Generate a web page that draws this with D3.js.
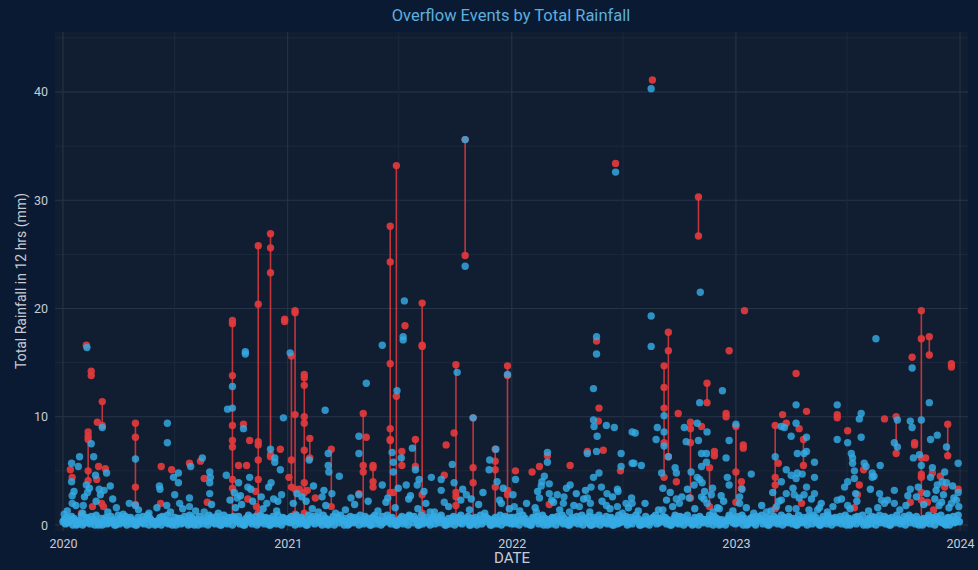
<!DOCTYPE html>
<html><head><meta charset="utf-8">
<script src="https://cdn.jsdelivr.net/npm/d3@7"></script>
<style>
html,body{margin:0;padding:0;background:#0b1a33;}
svg{display:block;}
</style></head><body>
<svg id="chart" width="978" height="570"></svg>
<script>
// ---------------- DATA ----------------
const chartTitle = "Overflow Events by Total Rainfall";
const xAxisTitle = "DATE";
const yAxisTitle = "Total Rainfall in 12 hrs (mm)";
const yTickValues = [0, 10, 20, 30, 40];
const xTickYears = ["2020", "2021", "2022", "2023", "2024"];

// Overflow events: date and the rainfall values (mm) of the overflowing sites that day
const redEvents = [
  ["2020-01-13",[5.1]],["2020-01-16",[4.4]],["2020-01-31",[1.1]],["2020-02-08",[16.6]],
  ["2020-02-11",[8.6,8.2,7.9,5.0,4.1]],["2020-02-16",[14.2,13.8]],["2020-02-18",[1.7]],
  ["2020-02-25",[4.2]],["2020-02-26",[9.5]],["2020-02-28",[5.4]],["2020-03-04",[2.0]],
  ["2020-03-05",[11.4,9.2]],["2020-03-07",[1.7]],["2020-03-10",[5.2]],["2020-04-28",[9.4,8.1,3.5,1.9]],
  ["2020-06-08",[2.0]],["2020-06-09",[5.4]],["2020-06-26",[5.1]],["2020-07-25",[5.7]],
  ["2020-08-12",[5.9]],["2020-08-18",[4.3]],["2020-08-23",[2.1]],
  ["2020-10-03",[18.9,18.6,13.8,9.2,7.8,7.2,4.2,3.4,0.5]],["2020-10-13",[5.5]],["2020-10-21",[9.3]],
  ["2020-10-26",[5.5]],["2020-10-28",[2.4]],["2020-10-31",[7.8]],["2020-11-10",[3.1]],["2020-11-11",[1.7]],
  ["2020-11-14",[25.8,20.4,7.7,7.4,6.0,4.2,1.1,0.3]],["2020-12-04",[26.9,25.6,23.3,6.5,6.3]],
  ["2020-12-20",[7.0]],["2020-12-27",[19.0,18.8]],
  ["2021-01-03",[4.4]],["2021-01-07",[15.6,6.0,3.5]],["2021-01-13",[19.8,19.6,10.2,3.3,1.0]],
  ["2021-01-20",[3.3]],["2021-01-28",[13.9,13.6,12.9,10.0,9.4,6.9,3.9,3.0,1.1,0.2]],["2021-02-02",[3.2]],
  ["2021-02-06",[8.0,6.2]],["2021-02-15",[2.5]],["2021-03-13",[7.0,1.7]],["2021-04-27",[2.9]],
  ["2021-05-04",[10.3,5.5,4.9,0.3]],["2021-05-09",[8.1]],["2021-05-20",[5.5,5.3,4.0,3.5]],
  ["2021-06-17",[27.6,24.3,14.9,8.9,7.9,7.8,3.0,0.5]],["2021-06-22",[3.0]],["2021-06-27",[33.2,11.9,0.3]],
  ["2021-07-06",[6.8,5.5]],["2021-07-11",[18.4]],["2021-07-28",[7.9,5.4]],
  ["2021-08-08",[20.5,16.6,16.5,2.8,1.1,0.5]],["2021-09-13",[4.6]],["2021-09-16",[7.4]],["2021-09-29",[8.5]],
  ["2021-10-02",[14.8,3.0,2.6,1.8,0.3]],["2021-10-17",[35.6,24.9]],["2021-10-30",[9.9,5.3,3.9,0.3]],
  ["2021-12-05",[7.0,5.9,5.1,3.5,0.3]],["2021-12-25",[14.7,13.8,3.2,2.8,0.3]],
  ["2022-01-07",[5.0]],["2022-02-03",[4.9]],["2022-02-15",[5.4]],["2022-02-28",[6.4]],["2022-03-03",[1.9]],
  ["2022-04-06",[5.5]],["2022-05-04",[6.8]],["2022-05-19",[17.0]],["2022-05-22",[9.6]],["2022-05-23",[10.8]],
  ["2022-05-30",[6.9]],["2022-06-19",[33.4]],["2022-06-27",[5.0]],["2022-08-18",[41.1]],
  ["2022-09-06",[14.7,12.7,10.8,7.6,4.4]],["2022-09-13",[17.8,16.1,6.3]],["2022-09-26",[4.0]],
  ["2022-09-28",[0.8]],["2022-09-29",[10.3]],["2022-10-19",[9.5,8.9,7.6,2.5]],["2022-11-01",[30.3,26.7]],
  ["2022-11-06",[9.1]],["2022-11-15",[13.1,11.3]],["2022-11-19",[5.3,1.7]],["2022-11-27",[6.8,6.4]],
  ["2022-12-16",[10.3,10.0]],["2022-12-21",[16.1]],
  ["2023-01-01",[9.1,4.9,2.1]],["2023-01-10",[4.0,3.4]],["2023-01-11",[0.6]],["2023-01-13",[7.4,7.1]],
  ["2023-01-15",[19.8]],["2023-03-06",[9.2,4.4,3.7,1.5]],["2023-03-11",[5.7]],["2023-03-18",[10.2]],
  ["2023-03-24",[9.4]],["2023-04-09",[14.0]],["2023-04-14",[8.9]],["2023-04-18",[2.0]],["2023-04-21",[7.9,5.5]],
  ["2023-04-26",[10.5]],["2023-06-15",[10.2,9.9]],["2023-07-02",[8.7]],["2023-07-13",[1.6]],["2023-07-18",[2.8]],
  ["2023-07-21",[3.7]],["2023-07-28",[5.1]],["2023-08-31",[9.8]],["2023-09-19",[10.0,6.6]],["2023-10-12",[2.1]],
  ["2023-10-15",[15.5]],["2023-10-19",[7.6,7.4]],["2023-10-30",[19.8,17.2,6.2,4.7,4.4,3.0,2.3,0.5]],
  ["2023-11-06",[6.2]],["2023-11-09",[2.1]],["2023-11-12",[17.4,15.7]],["2023-11-17",[4.8]],["2023-11-19",[1.4]],
  ["2023-11-30",[4.5]],["2023-12-07",[3.5]],["2023-12-12",[9.3,6.4]],["2023-12-18",[14.9,14.6]],["2023-12-29",[3.3]]
];

// Rainfall readings (mm) without overflow
const bluePoints = [
  ["2020-01-03",1.0],["2020-01-15",5.7],["2020-01-15",4.0],["2020-01-26",5.4],["2020-01-28",6.3],
  ["2020-01-16",2.7],["2020-01-16",2.0],["2020-02-03",1.8],["2020-02-08",3.7],["2020-02-10",3.0],
  ["2020-02-09",16.4],["2020-02-16",7.5],["2020-02-20",6.3],["2020-02-23",4.6],["2020-02-29",3.3],
  ["2020-03-08",3.2],["2020-03-12",4.8],["2020-03-05",9.0],["2020-03-28",1.6],["2020-04-18",2.0],
  ["2020-04-28",6.1],["2020-04-28",1.8],["2020-06-06",3.6],["2020-06-07",3.3],["2020-06-18",1.8],
  ["2020-06-19",9.4],["2020-06-19",7.6],["2020-06-29",4.4],["2020-07-07",4.8],["2020-07-07",3.9],
  ["2020-07-01",2.8],["2020-07-09",2.0],["2020-07-25",2.5],["2020-07-25",1.7],["2020-07-27",5.4],
  ["2020-08-15",6.2],["2020-08-27",4.9],["2020-08-28",4.4],["2020-08-27",3.9],["2020-08-27",2.9],
  ["2020-08-18",1.2],["2020-09-23",4.6],["2020-09-25",10.7],["2020-10-03",12.8],["2020-10-03",10.8],
  ["2020-10-13",3.9],["2020-10-21",8.9],["2020-10-28",3.5],["2020-10-31",4.4],["2020-10-11",2.5],
  ["2020-10-24",16.0],["2020-10-24",15.8],["2020-11-28",2.0],["2020-12-04",7.0],["2020-12-05",3.9],
  ["2020-12-11",6.2],["2020-12-11",5.8],["2020-12-20",5.1],["2020-12-22",2.8],["2020-12-25",9.9],
  ["2021-01-05",15.9],["2021-02-05",6.0],["2021-02-26",2.6],["2021-03-03",10.6],["2021-03-08",6.6],
  ["2021-03-08",5.5],["2021-03-09",4.9],["2021-03-14",2.9],["2021-03-26",4.5],["2021-04-14",2.5],
  ["2021-04-27",8.2],["2021-04-27",6.6],["2021-04-27",2.8],["2021-05-09",13.1],["2021-06-04",16.6],
  ["2021-06-04",3.7],["2021-06-20",6.7],["2021-06-22",5.8],["2021-06-22",4.9],["2021-06-28",12.4],
  ["2021-07-05",6.2],["2021-07-08",17.4],["2021-07-08",17.1],["2021-07-10",20.7],["2021-07-13",3.7],
  ["2021-07-23",7.1],["2021-07-28",5.1],["2021-07-31",3.7],["2021-08-03",4.2],["2021-08-21",1.2],
  ["2021-08-23",4.4],["2021-09-08",4.2],["2021-09-08",3.2],["2021-09-13",2.1],["2021-09-26",5.6],
  ["2021-09-29",3.9],["2021-10-04",14.1],["2021-10-17",35.6],["2021-10-17",23.9],["2021-10-19",2.8],
  ["2021-10-30",9.9],["2021-11-25",5.1],["2021-11-26",6.0],["2021-12-06",7.0],["2021-12-08",4.0],
  ["2021-12-12",2.3],["2021-12-25",13.9],
  ["2022-01-03",2.8],["2022-01-07",4.2],["2022-01-05",1.7],["2022-02-10",1.2],["2022-02-15",2.5],
  ["2022-02-18",3.6],["2022-02-19",4.0],["2022-02-23",4.5],["2022-02-28",6.7],["2022-02-28",5.8],
  ["2022-03-03",3.8],["2022-03-03",2.9],["2022-03-16",2.8],["2022-03-26",2.0],["2022-03-27",2.6],
  ["2022-03-31",3.4],["2022-04-05",1.2],["2022-04-06",3.7],["2022-04-21",1.7],["2022-05-04",2.5],
  ["2022-05-04",6.6],["2022-05-09",2.0],["2022-05-10",3.5],["2022-05-14",4.4],["2022-05-14",9.7],
  ["2022-05-14",12.6],["2022-05-15",9.1],["2022-05-19",6.8],["2022-05-19",17.4],["2022-05-19",15.8],
  ["2022-05-20",8.2],["2022-05-23",4.8],["2022-05-27",3.5],["2022-06-04",9.2],["2022-06-04",1.8],
  ["2022-06-05",2.9],["2022-06-17",9.0],["2022-06-19",32.6],["2022-06-22",1.7],["2022-06-22",3.3],
  ["2022-06-23",3.1],["2022-06-28",6.6],["2022-06-28",5.4],["2022-07-06",2.0],["2022-07-15",2.5],
  ["2022-07-16",8.6],["2022-07-16",5.7],["2022-07-16",2.0],["2022-07-19",5.7],["2022-07-21",8.5],
  ["2022-07-31",5.5],["2022-08-16",40.3],["2022-08-16",19.3],["2022-08-16",16.5],["2022-08-24",7.9],
  ["2022-08-26",9.0],["2022-09-02",4.8],["2022-09-04",3.4],["2022-09-04",1.4],["2022-09-06",10.1],
  ["2022-09-06",8.6],["2022-09-06",7.3],["2022-09-13",6.3],["2022-09-24",5.3],["2022-09-26",4.8],
  ["2022-09-26",2.4],["2022-10-01",2.0],["2022-10-09",9.0],["2022-10-12",7.7],["2022-10-17",2.5],
  ["2022-10-20",4.9],["2022-10-25",3.7],["2022-10-30",9.4],["2022-10-30",4.4],["2022-11-01",7.8],
  ["2022-11-03",11.3],["2022-11-03",4.2],["2022-11-04",21.5],["2022-11-06",6.6],["2022-11-06",5.4],
  ["2022-11-06",2.6],["2022-11-07",3.9],["2022-11-14",6.6],["2022-11-14",5.8],["2022-11-15",8.6],
  ["2022-11-15",2.0],["2022-11-22",2.8],["2022-11-24",3.4],["2022-11-25",1.2],["2022-12-05",1.5],
  ["2022-12-10",12.4],["2022-12-16",6.2],["2022-12-18",4.4],["2022-12-21",3.7],["2022-12-21",7.8],
  ["2023-01-01",9.3],["2023-01-07",2.6],["2023-01-07",2.0],["2023-01-11",3.3],["2023-01-26",4.7],
  ["2023-02-20",1.2],["2023-03-06",6.3],["2023-03-08",1.7],["2023-03-16",9.1],["2023-03-16",4.0],
  ["2023-03-16",2.3],["2023-03-21",9.0],["2023-03-24",5.1],["2023-03-24",2.9],["2023-04-01",8.2],
  ["2023-04-01",4.6],["2023-04-06",2.8],["2023-04-09",11.1],["2023-04-09",9.4],["2023-04-09",4.3],
  ["2023-04-09",1.5],["2023-04-11",6.6],["2023-04-11",4.8],["2023-04-19",4.7],["2023-04-22",6.6],
  ["2023-04-22",2.8],["2023-04-26",8.1],["2023-04-26",6.8],["2023-04-26",3.5],["2023-05-09",5.8],
  ["2023-05-09",4.4],["2023-05-09",2.9],["2023-05-14",1.4],["2023-05-17",1.6],["2023-06-15",11.1],
  ["2023-06-15",7.9],["2023-06-15",2.3],["2023-06-27",3.5],["2023-07-02",7.6],["2023-07-02",4.0],
  ["2023-07-02",1.8],["2023-07-08",6.6],["2023-07-10",6.2],["2023-07-10",5.7],["2023-07-13",5.0],
  ["2023-07-13",4.3],["2023-07-21",9.8],["2023-07-24",10.3],["2023-07-24",8.1],["2023-07-29",5.7],
  ["2023-08-01",5.4],["2023-08-11",4.8],["2023-08-11",4.4],["2023-08-14",4.5],["2023-08-17",17.2],
  ["2023-08-23",2.9],["2023-08-24",5.5],["2023-08-26",2.3],["2023-08-31",2.0],["2023-09-16",3.2],
  ["2023-09-16",7.6],["2023-09-16",2.0],["2023-09-21",9.7],["2023-09-21",7.2],["2023-10-12",9.6],
  ["2023-10-12",3.3],["2023-10-15",9.0],["2023-10-15",14.5],["2023-10-17",6.2],["2023-10-27",6.5],
  ["2023-10-30",9.7],["2023-10-30",5.5],["2023-11-12",11.3],["2023-11-14",7.9],["2023-11-14",4.4],
  ["2023-11-17",5.3],["2023-11-25",8.3],["2023-11-25",3.7],["2023-11-28",1.8],["2023-12-03",4.0],
  ["2023-12-07",4.9],["2023-12-10",7.2],["2023-12-10",3.9],["2023-12-18",2.0],["2023-12-26",2.3],
  ["2023-12-29",5.7],["2023-12-29",3.0]
];

// Light-rain readings (mm) just above the dry-day band
const lowBluePoints = [
  ["2020-01-08",1.3],["2020-01-22",1.8],["2020-02-02",1.1],["2020-02-24",2.2],["2020-03-14",1.2],
  ["2020-03-22",2.4],["2020-04-08",1.0],["2020-05-03",1.4],["2020-05-20",1.1],["2020-06-02",1.6],
  ["2020-06-24",1.2],["2020-07-14",1.5],["2020-08-04",1.3],["2020-08-30",1.9],["2020-09-10",1.1],
  ["2020-09-29",2.3],["2020-10-08",1.6],["2020-10-18",1.9],["2020-11-05",2.2],["2020-11-22",1.5],
  ["2020-12-09",2.4],["2020-12-14",1.3],
  ["2021-01-10",2.0],["2021-01-24",2.6],["2021-02-10",1.5],["2021-02-20",1.2],["2021-03-04",1.8],
  ["2021-03-20",1.1],["2021-04-05",1.4],["2021-04-20",1.9],["2021-05-12",2.2],["2021-05-28",1.3],
  ["2021-06-10",2.1],["2021-06-25",1.6],["2021-07-17",2.4],["2021-08-01",1.5],["2021-08-14",2.0],
  ["2021-08-28",1.2],["2021-09-20",1.7],["2021-10-10",2.3],["2021-10-24",1.4],["2021-11-08",1.9],
  ["2021-11-18",1.1],["2021-12-15",2.0],["2021-12-28",1.5],
  ["2022-01-14",1.3],["2022-01-25",2.0],["2022-02-08",1.6],["2022-03-10",2.1],["2022-03-20",1.4],
  ["2022-04-12",1.8],["2022-04-28",2.4],["2022-05-08",1.2],["2022-05-28",2.2],["2022-06-10",1.5],
  ["2022-06-30",1.1],["2022-07-10",1.6],["2022-07-26",1.3],["2022-08-06",2.0],["2022-08-28",1.4],
  ["2022-09-10",2.3],["2022-09-20",1.7],["2022-10-05",2.6],["2022-10-26",1.5],["2022-11-10",2.4],
  ["2022-12-02",1.6],["2022-12-12",2.2],["2022-12-27",1.3],
  ["2023-01-18",1.6],["2023-01-30",1.1],["2023-02-12",1.8],["2023-02-27",1.3],["2023-03-12",2.2],
  ["2023-03-28",1.5],["2023-04-14",2.5],["2023-04-30",1.4],["2023-05-20",2.0],["2023-05-30",1.2],
  ["2023-06-08",1.7],["2023-06-22",2.4],["2023-07-06",1.5],["2023-07-17",2.2],["2023-08-05",1.3],
  ["2023-08-20",1.6],["2023-09-05",2.3],["2023-09-25",1.4],["2023-10-05",1.8],["2023-10-22",2.6],
  ["2023-11-03",1.9],["2023-11-21",2.4],["2023-12-02",2.1],["2023-12-14",1.6],["2023-12-22",2.5],
  ["2023-12-30",1.7],
  ["2020-01-19",3.1],["2020-02-05",2.6],["2020-02-13",3.4],["2020-03-02",2.8],["2020-03-18",3.6],
  ["2020-10-06",3.0],["2020-10-16",2.7],["2020-11-02",3.3],["2020-11-19",2.6],["2020-12-01",3.5],
  ["2020-12-16",2.2],["2021-01-16",2.9],["2021-01-31",2.2],["2021-02-12",3.6],["2021-03-01",3.2],
  ["2021-06-13",2.5],["2021-06-30",3.4],["2021-07-20",2.7],["2021-08-11",3.1],["2021-10-13",3.3],
  ["2021-10-27",2.4],["2021-11-15",3.0],["2021-12-18",3.4],["2022-02-12",3.1],["2022-03-07",2.3],
  ["2022-04-16",2.9],["2022-05-01",3.2],["2022-06-14",2.6],["2022-09-16",3.0],["2022-10-14",3.3],
  ["2022-11-11",3.1],["2022-12-08",2.7],["2023-03-02",3.0],["2023-04-04",3.4],["2023-05-04",2.4],
  ["2023-07-15",2.9],["2023-08-08",3.3],["2023-10-08",2.7],["2023-10-25",3.5],["2023-11-08",2.9],
  ["2023-11-23",3.2],["2023-12-05",2.8],["2023-12-20",3.6]
];

// Near-dry readings: one digit (tenths of a mm) per 4 days, per year; second row is offset by 2 days
const baselineYears = ["2020", "2021", "2022", "2023"];
const baselineTenths = [
  "3125041302 6140320512 4031620513 0421604312 0521430612 4015203140 6213052140 6312053140 2613052140 63",
  "5230614205 3162041530 7240316250 4132061402 5314026130 8250413206 1425031604 2153062041 7350214062 31",
  "2140531206 4130251604 3120524130 6205140321 6041253021 5403120641 2531406213 0524130625 1403512064 21",
  "4250316204 5130624150 3261405230 6142053160 4251306241 5302614052 3160425130 6241530261 4053216042 53"
];
const baselineTenthsOffset = [
  "5738604927 3859062748 5096385740 7385962047 8593074658 3970584639 7485093768 5840697385 9476085937 48",
  "6849375096 8574960385 7946083759 4860795384 9673058479 6850947368 5794063857 9468037594 8605739486 75",
  "7485963074 8596037485 9630748596 4807596384 7059368475 9604853796 4875039687 5940768354 9786053497 68",
  "8596047386 9470586397 5846093758 6974085936 7485960478 5930687495 8607495386 9748056397 6859407483 96"
];

// ---------------- CHART ----------------
const W = 978, H = 570;
const plot = {left: 55, right: 968, top: 32, bottom: 531};
const colors = {
  page: "#0b1a33", panel: "#111d31", gridMajor: "#27354b", gridMinor: "#1b293e",
  title: "#5eaede", text: "#c7cbd3", blue: "#35abe4", red: "#e2393c"
};
const FONT = "Roboto, 'DejaVu Sans', sans-serif";
const parse = d3.timeParse("%Y-%m-%d");

const x = d3.scaleTime()
  .domain([new Date(2019, 11, 19), new Date(2024, 0, 14)])
  .range([plot.left, plot.right]);
const y = d3.scaleLinear()
  .domain([-0.554, 45.54])
  .range([plot.bottom, plot.top]);

const svg = d3.select("#chart");
svg.append("rect").attr("width", W).attr("height", H).attr("fill", colors.page);
svg.append("rect")
  .attr("x", plot.left).attr("y", plot.top)
  .attr("width", plot.right - plot.left).attr("height", plot.bottom - plot.top)
  .attr("fill", colors.panel);

// gridlines
const grid = svg.append("g");
const yGridMinor = d3.range(5, 46, 10);
grid.selectAll(".hmin").data(yGridMinor).join("line")
  .attr("x1", plot.left).attr("x2", plot.right)
  .attr("y1", d => y(d)).attr("y2", d => y(d))
  .attr("stroke", colors.gridMinor).attr("stroke-width", 1);
grid.selectAll(".hmaj").data(yTickValues).join("line")
  .attr("x1", plot.left).attr("x2", plot.right)
  .attr("y1", d => y(d)).attr("y2", d => y(d))
  .attr("stroke", colors.gridMajor).attr("stroke-width", 1);
const xMajor = xTickYears.map(yr => new Date(+yr, 0, 1));
const xMinor = xTickYears.slice(0, -1).map(yr => new Date(+yr, 6, 1));
grid.selectAll(".vmin").data(xMinor).join("line")
  .attr("y1", plot.top).attr("y2", plot.bottom)
  .attr("x1", d => x(d)).attr("x2", d => x(d))
  .attr("stroke", colors.gridMinor).attr("stroke-width", 1);
grid.selectAll(".vmaj").data(xMajor).join("line")
  .attr("y1", plot.top).attr("y2", plot.bottom)
  .attr("x1", d => x(d)).attr("x2", d => x(d))
  .attr("stroke", colors.gridMajor).attr("stroke-width", 1);

// axes (labels only)
const yAxis = d3.axisLeft(y).tickValues(yTickValues).tickSize(0).tickPadding(7);
const yg = svg.append("g").attr("transform", `translate(${plot.left},0)`).call(yAxis);
const xAxis = d3.axisBottom(x).tickValues(xMajor).tickFormat(d3.timeFormat("%Y")).tickSize(0).tickPadding(8);
const xg = svg.append("g").attr("transform", `translate(0,${plot.bottom})`).call(xAxis);
[yg, xg].forEach(g => {
  g.select(".domain").remove();
  g.selectAll("text").attr("fill", colors.text).attr("font-family", FONT).attr("font-size", 12.5);
});

// data
const events = redEvents.map(([d, vals]) => ({date: parse(d), vals}));
const redDots = events.flatMap(e => e.vals.map(v => ({date: e.date, v})));
const blueDots = bluePoints.map(([d, v]) => ({date: parse(d), v}));
const lowDots = lowBluePoints.map(([d, v]) => ({date: parse(d), v}));
const baseDots = [];
function addBaseline(strings, dayOffset) {
  baselineYears.forEach((yr, i) => {
    const digits = strings[i].replace(/\s/g, "");
    const start = new Date(+yr, 0, 1), end = new Date(+yr + 1, 0, 1);
    for (let k = 0; k < digits.length; k++) {
      const dt = d3.timeDay.offset(start, k * 4 + dayOffset);
      if (dt < end) baseDots.push({date: dt, v: +digits[k] / 10});
    }
  });
}
addBaseline(baselineTenths, 0);
addBaseline(baselineTenthsOffset, 2);

const marks = svg.append("g");
marks.selectAll(".evline").data(events.filter(e => e.vals.length > 1)).join("line")
  .attr("x1", d => x(d.date)).attr("x2", d => x(d.date))
  .attr("y1", d => y(d3.max(d.vals))).attr("y2", d => y(d3.min(d.vals)))
  .attr("stroke", colors.red).attr("stroke-width", 1.6).attr("stroke-opacity", 0.85);
marks.selectAll(".red").data(redDots).join("circle")
  .attr("cx", d => x(d.date)).attr("cy", d => y(d.v)).attr("r", 3.7)
  .attr("fill", colors.red).attr("fill-opacity", 0.92);
marks.selectAll(".base").data(baseDots).join("circle")
  .attr("cx", d => x(d.date)).attr("cy", d => y(d.v)).attr("r", 3.7)
  .attr("fill", colors.blue).attr("fill-opacity", 0.9);
marks.selectAll(".low").data(lowDots).join("circle")
  .attr("cx", d => x(d.date)).attr("cy", d => y(d.v)).attr("r", 3.7)
  .attr("fill", colors.blue).attr("fill-opacity", 0.85);
marks.selectAll(".blue").data(blueDots).join("circle")
  .attr("cx", d => x(d.date)).attr("cy", d => y(d.v)).attr("r", 3.7)
  .attr("fill", colors.blue).attr("fill-opacity", 0.82);

// titles
svg.append("text").attr("x", 511).attr("y", 21).attr("text-anchor", "middle")
  .attr("fill", colors.title).attr("font-family", FONT).attr("font-size", 16.5)
  .text(chartTitle);
svg.append("text").attr("x", 512).attr("y", 563).attr("text-anchor", "middle")
  .attr("fill", colors.text).attr("font-family", FONT).attr("font-size", 15)
  .text(xAxisTitle);
svg.append("text").attr("transform", "translate(26,281) rotate(-90)").attr("text-anchor", "middle")
  .attr("fill", colors.text).attr("font-family", FONT).attr("font-size", 14)
  .text(yAxisTitle);
</script>
</body></html>
